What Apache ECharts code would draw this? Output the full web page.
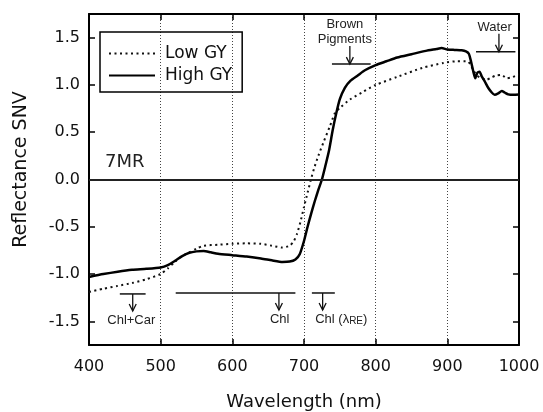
<!DOCTYPE html>
<html>
<head>
<meta charset="utf-8">
<script src="https://cdn.jsdelivr.net/npm/echarts@6/dist/echarts.min.js"></script>
<style>
  html, body { margin: 0; padding: 0; background: #fff; }
  #chart { width: 543px; height: 412px; }
</style>
</head>
<body>
<div id="chart"></div>
<script>
// Standard-normal-variate reflectance spectra, 7MR
const lowWavelength = [400, 420, 440, 460, 480, 500, 510, 520, 530, 540, 550, 560, 580, 600, 620, 640, 655, 670, 680, 686, 690, 695, 700, 705, 710, 715, 720, 727, 736, 743, 750, 764, 783, 800, 830, 865, 895, 913, 928, 932, 936, 940, 945, 955, 962, 968, 976, 983, 990, 1000];
const lowGY = [-1.19, -1.155, -1.125, -1.095, -1.055, -1.0, -0.94, -0.87, -0.81, -0.77, -0.73, -0.70, -0.69, -0.68, -0.675, -0.68, -0.70, -0.72, -0.70, -0.65, -0.58, -0.45, -0.29, -0.14, 0.01, 0.14, 0.25, 0.39, 0.56, 0.70, 0.757, 0.845, 0.93, 1.0, 1.085, 1.18, 1.233, 1.25, 1.25, 1.22, 1.16, 1.11, 1.08, 1.056, 1.08, 1.10, 1.105, 1.07, 1.08, 1.11];

const highWavelength = [400, 420, 440, 460, 480, 500, 510, 520, 530, 540, 550, 560, 570, 580, 600, 620, 640, 655, 670, 680, 688, 694, 700, 705, 710, 715, 720, 725, 730, 735, 740, 745, 750, 757, 765, 775, 785, 800, 815, 830, 850, 870, 885, 892, 900, 910, 920, 926, 930, 933, 936, 939, 942, 945, 948, 952, 957, 962, 966, 971, 976, 980, 985, 992, 1000];
const highGY = [-1.03, -1.0, -0.975, -0.955, -0.945, -0.93, -0.905, -0.86, -0.81, -0.775, -0.76, -0.755, -0.77, -0.785, -0.80, -0.815, -0.835, -0.855, -0.872, -0.868, -0.845, -0.79, -0.65, -0.50, -0.36, -0.23, -0.11, 0.0, 0.15, 0.31, 0.52, 0.70, 0.85, 0.97, 1.045, 1.10, 1.155, 1.21, 1.25, 1.29, 1.325, 1.36, 1.38, 1.39, 1.375, 1.37, 1.366, 1.355, 1.33, 1.25, 1.15, 1.07, 1.13, 1.14, 1.09, 1.04, 0.97, 0.92, 0.895, 0.91, 0.935, 0.92, 0.90, 0.895, 0.90];

const xTicks = [400, 500, 600, 700, 800, 900, 1000];
const yTicks = [-1.5, -1.0, -0.5, 0.0, 0.5, 1.0, 1.5];

// Absorption feature bands: start, end, level, arrow position, label centre
const bandLabels = ['Chl+Car', 'Chl', 'Chl (λ{sub|RE})', 'Brown\nPigments', 'Water'];
const bandStart = [443, 521, 711, 739, 940];
const bandEnd = [479, 688, 743, 793, 995];
const bandLevel = [-1.21, -1.2, -1.2, 1.22, 1.35];
const bandArrow = [461, 665, 726, 764, 972];
const bandLabelAt = [459, 666, 752, 757, 966];
const bandSide = ['below', 'below', 'below', 'above', 'above'];

const BIG = 'DejaVu Sans';
const SMALL = 'Liberation Sans, Arial, sans-serif';

const pairs = (xs, ys) => xs.map((x, i) => [x, ys[i]]);
const bandData = bandStart.map((s, i) => [s, bandEnd[i], bandLevel[i], bandArrow[i], bandLabelAt[i]]);

function renderBand(params, api) {
  const i = params.dataIndex;
  const p0 = api.coord([api.value(0), api.value(2)]);
  const p1 = api.coord([api.value(1), api.value(2)]);
  const pa = api.coord([api.value(3), api.value(2)]);
  const pl = api.coord([api.value(4), api.value(2)]);
  const y = p0[1];
  const below = bandSide[i] === 'below';
  const ay0 = below ? y : y - 18;
  const ay1 = below ? y + 17 : y;
  return {
    type: 'group',
    children: [
      { type: 'line', shape: { x1: p0[0], y1: y, x2: p1[0], y2: y }, style: { stroke: '#111', lineWidth: 1.5 } },
      { type: 'line', shape: { x1: pa[0], y1: ay0, x2: pa[0], y2: ay1 }, style: { stroke: '#111', lineWidth: 1.3 } },
      { type: 'polyline', shape: { points: [[pa[0] - 3.5, ay1 - 7], [pa[0], ay1], [pa[0] + 3.5, ay1 - 7]] }, style: { stroke: '#111', lineWidth: 1.3, fill: null } },
      {
        type: 'text',
        x: pl[0],
        y: below ? y + 26 : y - 17,
        style: {
          text: bandLabels[i],
          fill: '#222',
          font: '13px ' + SMALL,
          align: 'center',
          verticalAlign: below ? 'middle' : 'bottom',
          lineHeight: 15,
          rich: {
            sub: { fontSize: 10, fontFamily: SMALL, verticalAlign: 'bottom', padding: [6, 0, 0, 0], fill: '#222' }
          }
        }
      }
    ]
  };
}

const chart = echarts.init(document.getElementById('chart'), null, { renderer: 'canvas' });

const axisLine = { show: true, onZero: false, lineStyle: { color: '#000', width: 2 } };
const tickIn = { show: true, inside: true, length: 6, lineStyle: { color: '#000', width: 1.5 } };

chart.setOption({
  animation: false,
  backgroundColor: '#fff',
  grid: { left: 89, right: 24, top: 14, bottom: 67, outerBoundsMode: 'none', containLabel: false },
  legend: {
    data: ['Low GY', 'High GY'],
    orient: 'vertical',
    left: 100,
    top: 32,
    padding: [13, 10, 8, 8],
    itemWidth: 46,
    itemHeight: 14,
    itemGap: 5,
    borderColor: '#000',
    borderWidth: 1.5,
    borderRadius: 0,
    itemStyle: { color: 'transparent', borderColor: 'transparent', borderWidth: 0 },
    textStyle: { fontSize: 17, fontFamily: BIG, color: '#111', padding: [0, 0, 0, 5], lineHeight: 14 }
  },
  graphic: [
    { type: 'text', left: 105, top: 153, style: { text: '7MR', font: '18px ' + BIG, fill: '#222' } }
  ],
  xAxis: [
    {
      type: 'value', position: 'bottom', min: 400, max: 1000, interval: 100,
      name: 'Wavelength (nm)', nameLocation: 'middle', nameGap: 48,
      nameTextStyle: { fontSize: 18, fontFamily: BIG, color: '#111' },
      axisLine, axisTick: tickIn,
      axisLabel: { fontSize: 16, fontFamily: BIG, color: '#111', margin: 14, customValues: xTicks, formatter: v => String(v) },
      splitLine: { show: true, lineStyle: { color: '#444', width: 1, type: [1, 2] } }
    },
    {
      type: 'value', position: 'top', min: 400, max: 1000, interval: 100,
      axisLine, axisTick: tickIn, axisLabel: { show: false }, splitLine: { show: false }
    }
  ],
  yAxis: [
    {
      type: 'value', position: 'left', min: -1.75, max: 1.75, interval: 0.25,
      name: 'Reflectance SNV', nameLocation: 'middle', nameGap: 58,
      nameTextStyle: { fontSize: 19, fontFamily: BIG, color: '#111', padding: [0, 0, 0, 20] },
      axisLine, axisTick: Object.assign({}, tickIn, { customValues: yTicks }),
      axisLabel: { fontSize: 16, fontFamily: BIG, color: '#111', margin: 9, customValues: yTicks, formatter: v => v.toFixed(1) },
      splitLine: { show: false }
    },
    {
      type: 'value', position: 'right', min: -1.75, max: 1.75, interval: 0.25,
      axisLine, axisTick: Object.assign({}, tickIn, { customValues: yTicks }),
      axisLabel: { show: false }, splitLine: { show: false }
    }
  ],
  series: [
    {
      name: 'Low GY', type: 'line', data: pairs(lowWavelength, lowGY),
      symbol: 'none', smooth: 0.2, color: '#111',
      lineStyle: { color: '#111', width: 2, type: [2, 3.5] },
      z: 3
    },
    {
      name: 'High GY', type: 'line', data: pairs(highWavelength, highGY),
      symbol: 'none', smooth: 0.2, color: '#000',
      lineStyle: { color: '#000', width: 2.5, type: 'solid' },
      markLine: {
        silent: true, symbol: 'none', label: { show: false },
        lineStyle: { color: '#222', width: 2, type: 'solid' },
        data: [{ yAxis: 0 }]
      },
      z: 4
    },
    {
      name: 'bands', type: 'custom', renderItem: renderBand, data: bandData,
      silent: true, z: 5
    }
  ]
});
</script>
</body>
</html>
